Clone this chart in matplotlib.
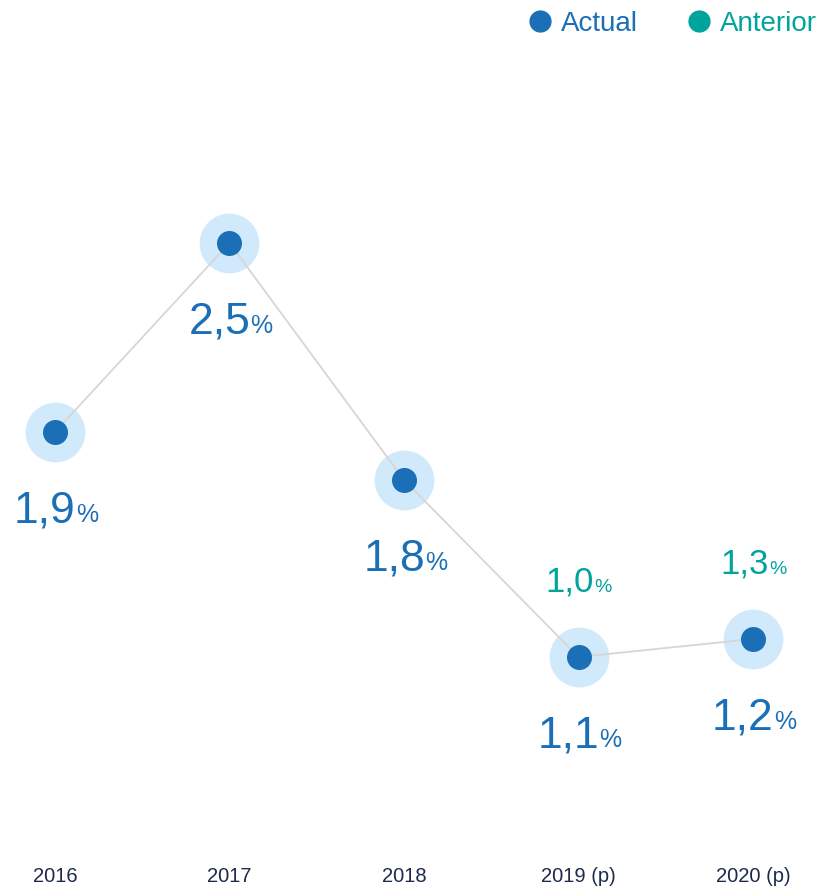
import matplotlib.pyplot as plt
from matplotlib.lines import Line2D
import matplotlib.transforms as mtransforms

plt.rcParams['font.family'] = ['Liberation Sans', 'DejaVu Sans']

# datos
years = ['2016', '2017', '2018', '2019 (p)', '2020 (p)']
actual = [1.87, 2.50, 1.71, 1.12, 1.18]
actual_labels = ['1,9', '2,5', '1,8', '1,1', '1,2']
anterior_labels = ['', '', '', '1,0', '1,3']

blue = '#1b6fb6'
teal = '#00a49c'
halo = '#d0e9fb'
navy = '#1c2b4b'

fig = plt.figure(figsize=(8.19, 8.91), dpi=100)
ax = fig.add_axes([0, 0, 1, 1])
ax.set_xlim(-0.315, 4.378)
ax.set_ylim(0.34, 3.31)
ax.axis('off')

x = list(range(len(years)))
ax.plot(x, actual, 'o', ms=43, color=halo, mec='none', zorder=1)
ax.plot(x, actual, '-', color='#d6d6d6', lw=1.3, zorder=2)
ax.plot(x, actual, 'o', ms=18, color=blue, mec='none', zorder=3)

for i, v in enumerate(actual):
    ax.annotate(actual_labels[i], (i, v), xytext=(15, -65), textcoords='offset points',
                ha='right', va='baseline', fontsize=32, color=blue)
    ax.annotate('%', (i, v), xytext=(15, -65), textcoords='offset points',
                ha='left', va='baseline', fontsize=18, color=blue)
    if anterior_labels[i]:
        ax.annotate(anterior_labels[i], (i, v), xytext=(11, 47), textcoords='offset points',
                    ha='right', va='baseline', fontsize=25, color=teal)
        ax.annotate('%', (i, v), xytext=(11.5, 47), textcoords='offset points',
                    ha='left', va='baseline', fontsize=14, color=teal)

# etiquetas del eje x
trans = mtransforms.blended_transform_factory(ax.transData, ax.transAxes)
for i, y in enumerate(years):
    ax.text(i, 14 / 891, y, transform=trans, ha='center', va='center',
            fontsize=14.5, color=navy)

# leyenda
handles = [Line2D([], [], marker='o', ls='none', color=blue, ms=15),
           Line2D([], [], marker='o', ls='none', color=teal, ms=15)]
leg = fig.legend(handles, ['Actual', 'Anterior'], loc='upper right',
                 bbox_to_anchor=(1.028, 1.016), ncol=2, frameon=False,
                 fontsize=20, handletextpad=0.15, columnspacing=1.6,
                 handlelength=1.2)
for t, c in zip(leg.get_texts(), [blue, teal]):
    t.set_color(c)

plt.savefig('out.png', dpi=100)
